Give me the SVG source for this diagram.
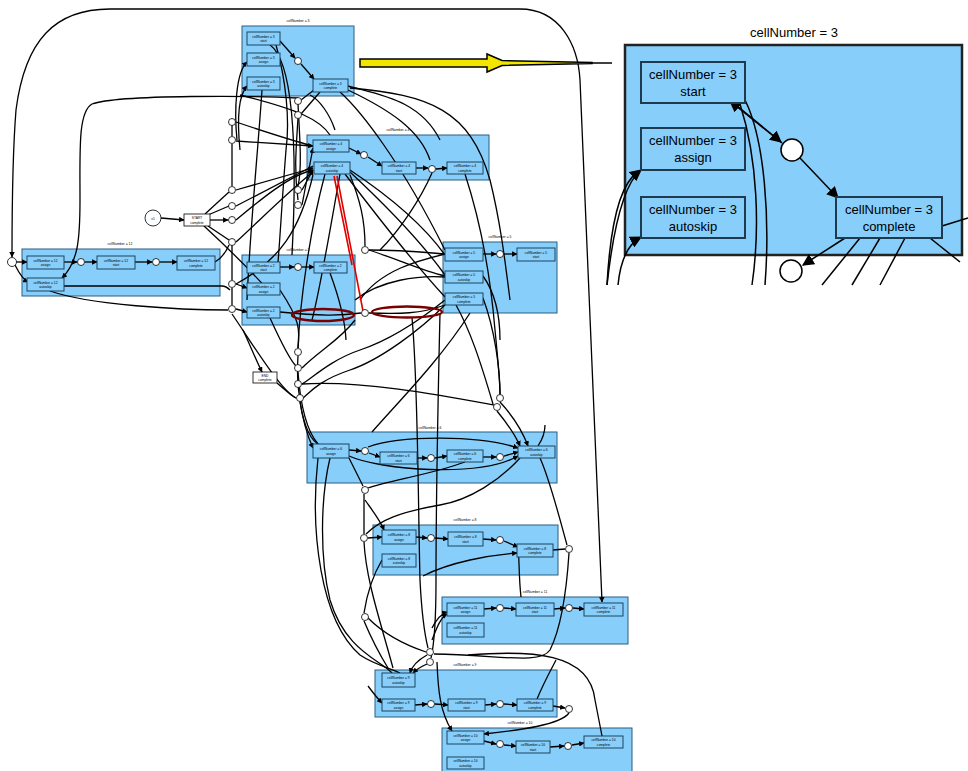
<svg xmlns="http://www.w3.org/2000/svg" width="968" height="771" viewBox="0 0 968 771">
<defs>
<marker id="ah" viewBox="0 0 10 10" refX="9" refY="5" markerWidth="5.5" markerHeight="5.5" markerUnits="userSpaceOnUse" orient="auto"><path d="M0,0 L10,5 L0,10 z" fill="#000"/></marker>
<marker id="ahb" viewBox="0 0 10 10" refX="9" refY="5" markerWidth="12" markerHeight="12" markerUnits="userSpaceOnUse" orient="auto"><path d="M0,0 L10,5 L0,10 z" fill="#000"/></marker>
</defs>
<style>
.cl{fill:#87cefa;stroke:#2b5f80;stroke-width:1}
.nd{fill:#87cefa;stroke:#1d4560;stroke-width:1}
.ct{font-family:"Liberation Sans",Arial,sans-serif;font-size:3.4px;fill:#000;text-anchor:middle}
.nt{font-family:"Liberation Sans",Arial,sans-serif;font-size:3.3px;fill:#000;text-anchor:middle}
.gw{fill:#fff;stroke:#000;stroke-width:0.8}
.e{fill:none;stroke:#000;stroke-width:1.3;marker-end:url(#ah)}
.l{fill:none;stroke:#000;stroke-width:1.3}
.red{fill:none;stroke:#e00000;stroke-width:1.6}
.ring{fill:none;stroke:#7a0000;stroke-width:2.4}
.icl{fill:#87cefa;stroke:#222;stroke-width:2.5}
.ind{fill:#87cefa;stroke:#1d3a4e;stroke-width:2}
.it{font-family:"Liberation Sans",Arial,sans-serif;font-size:13px;fill:#000;text-anchor:middle}
.ie{fill:none;stroke:#000;stroke-width:1.5}
.iea{fill:none;stroke:#000;stroke-width:1.5;marker-end:url(#ahb)}
</style>
<rect width="968" height="771" fill="#fff"/>

<!-- clusters -->
<g id="cluster3"><rect class="cl" x="242" y="26" width="112" height="70"/><text class="ct" x="298" y="22">cellNumber = 3</text></g>
<g id="cluster4"><rect class="cl" x="307" y="135" width="182" height="45"/><text class="ct" x="398" y="131">cellNumber = 4</text></g>
<g id="cluster12"><rect class="cl" x="22" y="249" width="198" height="47"/><text class="ct" x="120" y="245">cellNumber = 12</text></g>
<g id="cluster2"><rect class="cl" x="242" y="255" width="113" height="70"/><text class="ct" x="298" y="251">cellNumber = 2</text></g>
<g id="cluster5"><rect class="cl" x="443" y="242" width="114" height="71"/><text class="ct" x="500" y="238">cellNumber = 5</text></g>
<g id="cluster6"><rect class="cl" x="307" y="432" width="250" height="51"/><text class="ct" x="430" y="429">cellNumber = 6</text></g>
<g id="cluster8"><rect class="cl" x="373" y="525" width="185" height="50"/><text class="ct" x="465" y="521">cellNumber = 8</text></g>
<g id="cluster11"><rect class="cl" x="442" y="597" width="186" height="47"/><text class="ct" x="535" y="593">cellNumber = 11</text></g>
<g id="cluster9"><rect class="cl" x="375" y="670" width="182" height="47"/><text class="ct" x="465" y="666">cellNumber = 9</text></g>
<g id="cluster10"><rect class="cl" x="442" y="728" width="190" height="50"/><text class="ct" x="520" y="724">cellNumber = 10</text></g>

<!-- connectors -->
<g id="connectors">
<!-- long outer arch -->
<path class="e" d="M580,80 C578,45 560,9 520,9 L110,9 C55,9 25,40 16,110 C12,160 12,220 12,257"/>
<path class="e" d="M580,80 L602,602"/>
<!-- left loop -->
<path class="e" d="M298,98 C260,96 120,94 92,104 C78,112 80,150 80,200 C80,240 78,262 62,278"/>
<!-- cellNumber = 12 -->
<path class="e" d="M16,262 L27,262"/>
<path class="e" d="M15,265 C20,275 24,280 28,282"/>
<path class="e" d="M64,262 L77,262"/>
<path class="e" d="M85,262 L97,262"/>
<path class="e" d="M135,262 L152,262"/>
<path class="e" d="M160,262 L177,262"/>
<path class="l" d="M215,262 C222,258 226,252 229,245"/>
<path class="l" d="M64,286 L222,286 C226,286 228,288 230,290"/>
<path class="l" d="M50,291 C90,305 180,310 228,310"/>
<!-- START -->
<path class="e" d="M161,218 L184,220"/>
<path class="e" d="M210,220 L228,220"/>
<path class="l" d="M205,214 L229,192"/>
<path class="l" d="M208,215 L229,206"/>
<path class="l" d="M208,226 L229,240"/>
<path class="l" d="M204,226 C230,250 250,270 268,290"/>
<!-- cellNumber = 3 -->
<path class="e" d="M280,41 L295,58"/>
<path class="e" d="M301,64 L314,79"/>
<path class="e" d="M237,140 C234,110 236,72 247,62"/>
<path class="e" d="M240,150 C237,120 238,96 247,86"/>
<path class="l" d="M270,45 C292,60 298,140 292,255"/>
<path class="l" d="M276,45 C286,80 290,120 286,150 C282,200 280,240 278,262"/>
<path class="l" d="M262,90 C258,150 250,230 247,300"/>
<path class="l" d="M314,90 L301,100"/>
<path class="l" d="M320,92 L301,114"/>
<path class="l" d="M348,86 C380,95 420,100 440,140"/>
<path class="l" d="M348,90 C390,110 420,130 430,160"/>
<path class="l" d="M340,92 C360,110 400,160 445,250"/>
<path class="l" d="M350,88 C430,95 470,110 490,180 C500,220 505,260 510,300"/>
<!-- gateway column x=232 -->
<path class="l" d="M236,122 C260,130 290,140 313,146"/>
<path class="e" d="M236,141 L313,146"/>
<path class="e" d="M236,190 L313,168"/>
<path class="l" d="M236,206 L313,166"/>
<path class="e" d="M236,220 C260,200 290,175 313,170"/>
<path class="l" d="M236,242 C260,220 290,190 313,172"/>
<path class="l" d="M236,284 C280,260 300,230 313,175"/>
<path class="e" d="M236,284 L247,288"/>
<path class="e" d="M236,309 L247,312"/>
<path class="l" d="M232,125 L232,136"/>
<path class="l" d="M232,144 L232,186"/>
<path class="l" d="M232,244 L232,280"/>
<path class="l" d="M232,288 L232,305"/>
<!-- gateway column x=298 -->
<path class="l" d="M298,104 C300,140 302,170 298,186"/>
<path class="l" d="M298,118 C296,150 294,170 298,200"/>
<path class="e" d="M302,190 L313,170"/>
<path class="e" d="M302,205 L313,148"/>
<!-- cellNumber = 4 -->
<path class="e" d="M349,148 L361,154"/>
<path class="e" d="M368,157 L382,166"/>
<path class="e" d="M416,168 L428,168"/>
<path class="e" d="M436,169 L447,168"/>
<path class="l" d="M335,130 C330,115 320,100 310,95"/>
<path class="l" d="M330,135 C320,120 300,110 240,95"/>
<path class="l" d="M432,173 C420,200 400,230 380,250"/>
<path class="l" d="M465,174 C480,220 490,270 495,330 C498,360 500,390 500,395"/>
<path class="l" d="M350,170 C380,190 420,220 445,255"/>
<path class="l" d="M350,172 C380,200 420,240 445,275"/>
<path class="l" d="M345,174 C380,220 420,270 445,297"/>
<path class="l" d="M340,174 C330,230 320,290 312,320"/>
<path class="l" d="M325,174 C310,230 300,300 298,348"/>
<path class="l" d="M360,300 C380,270 420,260 445,254"/>
<path class="l" d="M355,300 C380,280 420,275 445,277"/>
<path class="l" d="M369,250 C400,250 420,252 445,254"/>
<path class="l" d="M369,250 C400,260 420,270 445,276"/>
<path class="l" d="M365,246 C365,220 360,200 350,175"/>
<!-- red trace -->
<path class="red" d="M337,176 L363,311"/>
<path class="red" d="M334,176 L352,265"/>
<!-- cellNumber = 2 -->
<path class="e" d="M280,267 L294,267"/>
<path class="e" d="M302,267 L314,267"/>
<path class="l" d="M280,312 C320,316 340,316 361,313"/>
<path class="l" d="M369,313 C400,314 420,314 445,305"/>
<path class="l" d="M330,273 C340,300 345,320 346,340"/>
<path class="l" d="M280,290 C300,320 300,330 298,348"/>
<path class="l" d="M270,318 C280,340 290,360 296,366"/>
<path class="l" d="M355,320 C340,340 320,350 302,368"/>
<path class="l" d="M445,300 C420,320 390,340 360,350 C330,360 310,380 302,384"/>
<path class="l" d="M445,305 C420,330 380,360 350,370 C320,380 310,392 303,398"/>
<path class="l" d="M232,314 C250,340 280,390 296,398"/>
<path class="e" d="M243,330 C250,345 256,360 262,372"/>
<path class="l" d="M277,383 C285,390 292,396 296,398"/>
<path class="l" d="M302,384 C360,380 440,395 494,405"/>
<!-- long runs down to the lower gateways -->
<path class="l" d="M412,318 C418,380 418,500 420,580 C422,620 426,640 428,648"/>
<path class="l" d="M440,313 C438,400 436,520 436,580 C436,620 434,645 431,658"/>
<!-- cellNumber = 5 -->
<path class="e" d="M483,254 L496,254"/>
<path class="e" d="M504,254 L517,254"/>
<path class="l" d="M483,276 C500,300 500,330 500,340"/>
<path class="l" d="M483,298 C495,330 500,370 500,394"/>
<path class="l" d="M456,305 C470,330 480,360 493,404"/>
<path class="l" d="M470,313 C440,360 400,400 372,432"/>
<!-- gateways to cellNumber = 6 -->
<path class="e" d="M298,356 C296,380 300,420 313,448"/>
<path class="l" d="M298,372 C300,400 306,430 318,444"/>
<path class="l" d="M300,402 C303,420 308,440 320,445"/>
<path class="e" d="M500,402 C512,415 522,430 528,446"/>
<path class="e" d="M497,411 C506,422 514,432 520,446"/>
<!-- cellNumber = 6 -->
<path class="e" d="M349,450 L361,451"/>
<path class="e" d="M369,453 L380,457"/>
<path class="e" d="M417,458 L427,458"/>
<path class="e" d="M435,458 L447,456"/>
<path class="e" d="M483,457 L496,457"/>
<path class="e" d="M504,456 L518,452"/>
<path class="e" d="M368,447 C400,435 480,435 518,448"/>
<path class="e" d="M349,456 C380,470 480,478 518,456"/>
<path class="l" d="M465,462 C430,475 390,480 368,488"/>
<path class="l" d="M349,458 C355,470 360,480 363,486"/>
<path class="l" d="M330,458 C320,500 320,560 330,600 C345,650 380,660 392,673"/>
<path class="l" d="M318,458 C310,530 320,620 360,655 C375,665 390,668 400,673"/>
<path class="l" d="M520,458 C500,480 470,500 440,505 C400,512 380,520 366,534"/>
<path class="l" d="M540,458 C550,480 560,520 567,545"/>
<path class="l" d="M545,425 C545,432 542,440 538,446"/>
<!-- cellNumber = 8 -->
<path class="e" d="M368,538 L382,537"/>
<path class="e" d="M416,537 L427,538"/>
<path class="e" d="M435,538 L448,539"/>
<path class="e" d="M483,539 L496,540"/>
<path class="e" d="M504,541 L518,547"/>
<path class="e" d="M365,500 C372,510 380,520 384,530"/>
<path class="l" d="M364,494 C364,510 364,525 364,534"/>
<path class="l" d="M553,550 L565,549"/>
<path class="e" d="M423,576 C450,562 490,555 517,553"/>
<path class="l" d="M382,560 C370,580 366,600 364,613"/>
<path class="l" d="M364,542 C366,580 380,620 393,668"/>
<path class="l" d="M569,553 C566,600 560,630 550,650 C540,665 500,655 434,654"/>
<!-- cellNumber = 11 -->
<path class="e" d="M484,609 L496,608"/>
<path class="e" d="M504,608 L516,609"/>
<path class="e" d="M554,609 L565,608"/>
<path class="e" d="M573,608 L584,609"/>
<path class="e" d="M432,628 C436,620 440,614 447,612"/>
<path class="e" d="M432,640 C436,630 440,618 447,614"/>
<path class="l" d="M521,597 C518,570 520,550 517,548"/>
<!-- lower gateways -->
<path class="l" d="M364,621 C372,640 380,655 388,668"/>
<path class="e" d="M427,655 C418,660 412,666 410,673"/>
<path class="e" d="M427,664 C420,667 416,670 413,673"/>
<path class="l" d="M368,618 C390,640 420,650 426,652"/>
<!-- cellNumber = 9 -->
<path class="e" d="M415,705 L427,704"/>
<path class="e" d="M435,704 L448,705"/>
<path class="e" d="M485,705 L496,704"/>
<path class="e" d="M504,704 L517,705"/>
<path class="e" d="M553,706 L565,708"/>
<path class="e" d="M368,686 C374,694 378,699 382,703"/>
<path class="l" d="M537,699 C545,680 552,668 556,660"/>
<path class="l" d="M468,655 C530,650 590,652 595,700 L602,736"/>
<path class="e" d="M437,662 C438,690 440,712 452,731"/>
<!-- cellNumber = 10 -->
<path class="e" d="M569,713 C560,725 520,730 484,734"/>
<path class="e" d="M484,741 L496,744"/>
<path class="e" d="M504,745 L516,746"/>
<path class="e" d="M550,747 L564,746"/>
<path class="e" d="M572,745 L584,743"/>
</g>

<!-- gateways -->
<g id="gateways">
<circle class="gw" cx="12" cy="262" r="4.5"/>
<circle class="gw" cx="81" cy="262" r="3.5"/>
<circle class="gw" cx="156" cy="262" r="3.5"/>
<circle class="gw" cx="298" cy="61" r="3.5"/>
<circle class="gw" cx="364" cy="155" r="3.5"/>
<circle class="gw" cx="432" cy="169" r="3.5"/>
<circle class="gw" cx="298" cy="267" r="3.5"/>
<circle class="gw" cx="500" cy="254" r="3.5"/>
<circle class="gw" cx="365" cy="451" r="3.5"/>
<circle class="gw" cx="431" cy="458" r="3.5"/>
<circle class="gw" cx="500" cy="457" r="3.5"/>
<circle class="gw" cx="431" cy="538" r="3.5"/>
<circle class="gw" cx="500" cy="540" r="3.5"/>
<circle class="gw" cx="364" cy="538" r="3.5"/>
<circle class="gw" cx="569" cy="549" r="3.5"/>
<circle class="gw" cx="500" cy="608" r="3.5"/>
<circle class="gw" cx="569" cy="608" r="3.5"/>
<circle class="gw" cx="431" cy="704" r="3.5"/>
<circle class="gw" cx="500" cy="704" r="3.5"/>
<circle class="gw" cx="569" cy="709" r="3.5"/>
<circle class="gw" cx="500" cy="744" r="3.5"/>
<circle class="gw" cx="568" cy="746" r="3.5"/>
<circle class="gw" cx="232" cy="122" r="3.5"/>
<circle class="gw" cx="232" cy="140" r="3.5"/>
<circle class="gw" cx="232" cy="190" r="3.5"/>
<circle class="gw" cx="232" cy="206" r="3.5"/>
<circle class="gw" cx="232" cy="220" r="3.5"/>
<circle class="gw" cx="232" cy="242" r="3.5"/>
<circle class="gw" cx="232" cy="284" r="3.5"/>
<circle class="gw" cx="232" cy="309" r="3.5"/>
<circle class="gw" cx="298" cy="101" r="3.5"/>
<circle class="gw" cx="298" cy="115" r="3.5"/>
<circle class="gw" cx="298" cy="190" r="3.5"/>
<circle class="gw" cx="298" cy="205" r="3.5"/>
<circle class="gw" cx="365" cy="250" r="3.5"/>
<circle class="gw" cx="365" cy="313" r="3.5"/>
<circle class="gw" cx="298" cy="352" r="3.5"/>
<circle class="gw" cx="298" cy="368" r="3.5"/>
<circle class="gw" cx="298" cy="384" r="3.5"/>
<circle class="gw" cx="300" cy="398" r="3.5"/>
<circle class="gw" cx="500" cy="398" r="3.5"/>
<circle class="gw" cx="497" cy="407" r="3.5"/>
<circle class="gw" cx="365" cy="490" r="3.5"/>
<circle class="gw" cx="365" cy="617" r="3.5"/>
<circle class="gw" cx="430" cy="652" r="3.5"/>
<circle class="gw" cx="430" cy="662" r="3.5"/>
</g>

<!-- highlight rings -->
<ellipse class="ring" cx="323" cy="315" rx="31" ry="6"/>
<ellipse class="ring" cx="407" cy="312" rx="35" ry="5.5"/>

<!-- nodes -->
<g id="n3start"><rect class="nd" x="247" y="32" width="33" height="13"/><text class="nt" x="263.5" y="37.5">cellNumber = 3</text><text class="nt" x="263.5" y="42">start</text></g>
<g id="n3assign"><rect class="nd" x="247" y="53" width="33" height="13"/><text class="nt" x="263.5" y="58.5">cellNumber = 3</text><text class="nt" x="263.5" y="63">assign</text></g>
<g id="n3autoskip"><rect class="nd" x="247" y="77" width="33" height="13"/><text class="nt" x="263.5" y="82.5">cellNumber = 3</text><text class="nt" x="263.5" y="87">autoskip</text></g>
<g id="n3complete"><rect class="nd" x="313" y="79" width="35" height="13"/><text class="nt" x="330.5" y="84.5">cellNumber = 3</text><text class="nt" x="330.5" y="89">complete</text></g>

<g id="n4assign"><rect class="nd" x="313" y="140" width="36" height="12"/><text class="nt" x="331" y="145">cellNumber = 4</text><text class="nt" x="331" y="149.5">assign</text></g>
<g id="n4autoskip"><rect class="nd" x="314" y="162" width="36" height="12"/><text class="nt" x="332" y="167">cellNumber = 4</text><text class="nt" x="332" y="171.5">autoskip</text></g>
<g id="n4start"><rect class="nd" x="382" y="162" width="34" height="12"/><text class="nt" x="399" y="167">cellNumber = 4</text><text class="nt" x="399" y="171.5">start</text></g>
<g id="n4complete"><rect class="nd" x="447" y="162" width="36" height="12"/><text class="nt" x="465" y="167">cellNumber = 4</text><text class="nt" x="465" y="171.5">complete</text></g>

<g id="n12assign"><rect class="nd" x="27" y="256" width="37" height="13"/><text class="nt" x="45.5" y="261.5">cellNumber = 12</text><text class="nt" x="45.5" y="266">assign</text></g>
<g id="n12start"><rect class="nd" x="97" y="256" width="38" height="13"/><text class="nt" x="116" y="261.5">cellNumber = 12</text><text class="nt" x="116" y="266">start</text></g>
<g id="n12complete"><rect class="nd" x="177" y="256" width="38" height="14"/><text class="nt" x="196" y="262">cellNumber = 12</text><text class="nt" x="196" y="266.5">complete</text></g>
<g id="n12autoskip"><rect class="nd" x="27" y="278" width="37" height="13"/><text class="nt" x="45.5" y="283.5">cellNumber = 12</text><text class="nt" x="45.5" y="288">autoskip</text></g>

<g id="n2start"><rect class="nd" x="247" y="262" width="33" height="11"/><text class="nt" x="263.5" y="266.5">cellNumber = 2</text><text class="nt" x="263.5" y="271">start</text></g>
<g id="n2complete"><rect class="nd" x="314" y="262" width="33" height="11"/><text class="nt" x="330.5" y="266.5">cellNumber = 2</text><text class="nt" x="330.5" y="271">complete</text></g>
<g id="n2assign"><rect class="nd" x="247" y="283" width="33" height="12"/><text class="nt" x="263.5" y="288">cellNumber = 2</text><text class="nt" x="263.5" y="292.5">assign</text></g>
<g id="n2autoskip"><rect class="nd" x="247" y="307" width="33" height="11"/><text class="nt" x="263.5" y="311.5">cellNumber = 2</text><text class="nt" x="263.5" y="316">autoskip</text></g>

<g id="n5assign"><rect class="nd" x="445" y="248" width="38" height="13"/><text class="nt" x="464" y="253.5">cellNumber = 5</text><text class="nt" x="464" y="258">assign</text></g>
<g id="n5start"><rect class="nd" x="517" y="248" width="38" height="13"/><text class="nt" x="536" y="253.5">cellNumber = 5</text><text class="nt" x="536" y="258">start</text></g>
<g id="n5autoskip"><rect class="nd" x="445" y="271" width="38" height="12"/><text class="nt" x="464" y="276">cellNumber = 5</text><text class="nt" x="464" y="280.5">autoskip</text></g>
<g id="n5complete"><rect class="nd" x="445" y="293" width="38" height="12"/><text class="nt" x="464" y="298">cellNumber = 5</text><text class="nt" x="464" y="302.5">complete</text></g>

<g id="n6assign"><rect class="nd" x="313" y="444" width="36" height="14"/><text class="nt" x="331" y="450">cellNumber = 6</text><text class="nt" x="331" y="454.5">assign</text></g>
<g id="n6start"><rect class="nd" x="380" y="452" width="37" height="12"/><text class="nt" x="398.5" y="457">cellNumber = 6</text><text class="nt" x="398.5" y="461.5">start</text></g>
<g id="n6complete"><rect class="nd" x="447" y="450" width="36" height="12"/><text class="nt" x="465" y="455">cellNumber = 6</text><text class="nt" x="465" y="459.5">complete</text></g>
<g id="n6autoskip"><rect class="nd" x="518" y="446" width="37" height="12"/><text class="nt" x="536.5" y="451">cellNumber = 6</text><text class="nt" x="536.5" y="455.5">autoskip</text></g>

<g id="n8assign"><rect class="nd" x="382" y="530" width="34" height="14"/><text class="nt" x="399" y="536">cellNumber = 8</text><text class="nt" x="399" y="540.5">assign</text></g>
<g id="n8start"><rect class="nd" x="448" y="532" width="35" height="14"/><text class="nt" x="465.5" y="538">cellNumber = 8</text><text class="nt" x="465.5" y="542.5">start</text></g>
<g id="n8complete"><rect class="nd" x="517" y="544" width="36" height="13"/><text class="nt" x="535" y="549.5">cellNumber = 8</text><text class="nt" x="535" y="554">complete</text></g>
<g id="n8autoskip"><rect class="nd" x="382" y="554" width="34" height="13"/><text class="nt" x="399" y="559.5">cellNumber = 8</text><text class="nt" x="399" y="564">autoskip</text></g>

<g id="n11assign"><rect class="nd" x="447" y="603" width="37" height="13"/><text class="nt" x="465.5" y="608.5">cellNumber = 11</text><text class="nt" x="465.5" y="613">assign</text></g>
<g id="n11start"><rect class="nd" x="516" y="603" width="38" height="13"/><text class="nt" x="535" y="608.5">cellNumber = 11</text><text class="nt" x="535" y="613">start</text></g>
<g id="n11complete"><rect class="nd" x="584" y="603" width="39" height="13"/><text class="nt" x="603.5" y="608.5">cellNumber = 11</text><text class="nt" x="603.5" y="613">complete</text></g>
<g id="n11autoskip"><rect class="nd" x="447" y="623" width="37" height="14"/><text class="nt" x="465.5" y="629">cellNumber = 11</text><text class="nt" x="465.5" y="633.5">autoskip</text></g>

<g id="n9autoskip"><rect class="nd" x="382" y="673" width="33" height="14"/><text class="nt" x="398.5" y="679">cellNumber = 9</text><text class="nt" x="398.5" y="683.5">autoskip</text></g>
<g id="n9assign"><rect class="nd" x="382" y="699" width="33" height="12"/><text class="nt" x="398.5" y="704">cellNumber = 9</text><text class="nt" x="398.5" y="708.5">assign</text></g>
<g id="n9start"><rect class="nd" x="448" y="699" width="37" height="12"/><text class="nt" x="466.5" y="704">cellNumber = 9</text><text class="nt" x="466.5" y="708.5">start</text></g>
<g id="n9complete"><rect class="nd" x="517" y="699" width="36" height="12"/><text class="nt" x="535" y="704">cellNumber = 9</text><text class="nt" x="535" y="708.5">complete</text></g>

<g id="n10assign"><rect class="nd" x="447" y="731" width="37" height="13"/><text class="nt" x="465.5" y="736.5">cellNumber = 10</text><text class="nt" x="465.5" y="741">assign</text></g>
<g id="n10start"><rect class="nd" x="516" y="741" width="34" height="12"/><text class="nt" x="533" y="746">cellNumber = 10</text><text class="nt" x="533" y="750.5">start</text></g>
<g id="n10complete"><rect class="nd" x="584" y="736" width="39" height="12"/><text class="nt" x="603.5" y="741">cellNumber = 10</text><text class="nt" x="603.5" y="745.5">complete</text></g>
<g id="n10autoskip"><rect class="nd" x="447" y="757" width="37" height="12"/><text class="nt" x="465.5" y="762">cellNumber = 10</text><text class="nt" x="465.5" y="766.5">autoskip</text></g>

<g id="start"><circle class="gw" cx="153" cy="218" r="8"/><text class="nt" x="153" y="219.5">x1</text><rect x="184" y="214" width="26" height="12" fill="#fff" stroke="#000" stroke-width="0.8"/><text class="nt" x="197" y="219">START</text><text class="nt" x="197" y="223.5">complete</text></g>
<g id="end"><rect x="253" y="372" width="24" height="11" fill="#fff" stroke="#000" stroke-width="0.8"/><text class="nt" x="265" y="376.5">END</text><text class="nt" x="265" y="381">complete</text></g>

<!-- pointer to the enlarged view -->
<g id="pointer">
<path d="M360,59 L487,59 L487,54 L502,60.5 L592,62.4 L592,63.6 L502,65.5 L487,72 L487,67 L360,67 Z" fill="#f2e600" stroke="#000" stroke-width="1.5" stroke-linejoin="miter"/>
<path d="M590,63 L612,63" stroke="#000" stroke-width="1.5"/>
</g>

<!-- enlarged view of cellNumber = 3 -->
<g id="detail">
<text class="it" x="794" y="37">cellNumber = 3</text>
<rect class="icl" x="625" y="45" width="337" height="210"/>
<path class="ie" d="M607,285 C610,230 618,185 638,172"/>
<path class="iea" d="M607,285 C612,240 622,185 641,170"/>
<path class="iea" d="M618,285 C620,265 626,245 641,237"/>
<path class="ie" d="M745,100 C765,140 770,220 765,285"/>
<path class="ie" d="M740,104 C758,160 760,230 752,285"/>
<path class="iea" d="M782,143 L730,101"/>
<path class="iea" d="M736,105 L781,142"/>
<path class="iea" d="M800,158 L838,198"/>
<path class="ie" d="M860,238 L822,285"/>
<path class="ie" d="M880,238 L852,285"/>
<path class="ie" d="M905,238 L880,285"/>
<path class="ie" d="M930,238 L960,262"/>
<path class="iea" d="M845,238 L803,265"/>
<path class="ie" d="M942,226 L968,218"/>
<circle cx="792" cy="150" r="11" fill="#fff" stroke="#000" stroke-width="1.5"/>
<circle cx="791" cy="271" r="11" fill="#fff" stroke="#000" stroke-width="1.5"/>
<g id="d3start"><rect class="ind" x="641" y="62" width="104" height="41"/><text class="it" x="693" y="79">cellNumber = 3</text><text class="it" x="693" y="96">start</text></g>
<g id="d3assign"><rect class="ind" x="641" y="128" width="104" height="42"/><text class="it" x="693" y="145">cellNumber = 3</text><text class="it" x="693" y="162">assign</text></g>
<g id="d3autoskip"><rect class="ind" x="641" y="197" width="104" height="41"/><text class="it" x="693" y="214">cellNumber = 3</text><text class="it" x="693" y="231">autoskip</text></g>
<g id="d3complete"><rect class="ind" x="836" y="197" width="106" height="41"/><text class="it" x="889" y="214">cellNumber = 3</text><text class="it" x="889" y="231">complete</text></g>
</g>
</svg>
